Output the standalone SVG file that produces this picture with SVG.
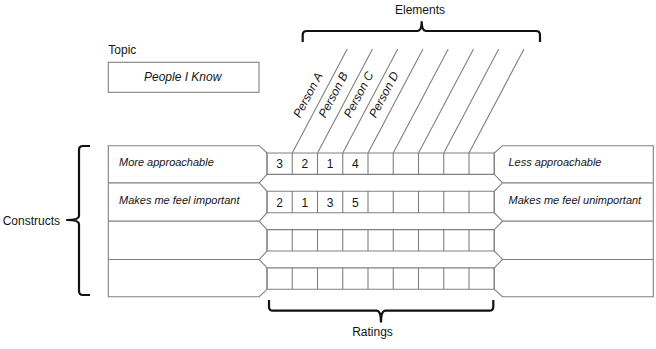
<svg xmlns="http://www.w3.org/2000/svg" width="656" height="349" viewBox="0 0 656 349">
<style>
  .ln{fill:none;stroke:#808080;stroke-width:1.1}
  .br{fill:none;stroke:#111;stroke-width:2.2;stroke-linejoin:round;stroke-linecap:butt}
  .t{font-family:"Liberation Sans",Arial,sans-serif;font-size:12px;fill:#151515}
  .i{font-style:italic;font-size:11px}
  .p{font-style:italic;font-size:12px}
  .n{font-size:12px;text-anchor:middle}
</style>
<rect width="656" height="349" fill="#fff"/>

<g id="topic">
  <text class="t" x="108.3" y="53.5">Topic</text>
  <rect class="ln" x="108.3" y="62.3" width="150.7" height="30"/>
  <text class="t p" x="182.7" y="80.8" text-anchor="middle">People I Know</text>
</g>

<g id="constructs-left">
  <path class="ln" d="M108.3,145.7 H259.3 L267,153 V174.4 L259.3,182.85 L267,191.3 V212.7 L259.3,221.15 L267,229.6 V251 L259.3,259.45 L267,267.9 V289.3 L259.3,296.7 H108.3 Z M108.3,182.85 H259.3 M108.3,221.15 H259.3 M108.3,259.45 H259.3"/>
  <text class="t i" x="119" y="166">More approachable</text>
  <text class="t i" x="119" y="204.3">Makes me feel important</text>
</g>

<g id="constructs-right">
  <path class="ln" d="M502.5,145.7 H653.3 V296.7 H502.5 L494.25,289.3 V267.9 L502.5,259.45 L494.25,251 V229.6 L502.5,221.15 L494.25,212.7 V191.3 L502.5,182.85 L494.25,174.4 V153 Z M502.5,182.85 H653.3 M502.5,221.15 H653.3 M502.5,259.45 H653.3"/>
  <text class="t i" x="508.5" y="166">Less approachable</text>
  <text class="t i" x="508.5" y="204.3">Makes me feel unimportant</text>
</g>

<g id="ratings-grid">
  <path class="ln" d="M267,153 H494.25 V174.4 H267 Z M267,191.3 H494.25 V212.7 H267 Z M267,229.6 H494.25 V251 H267 Z M267,267.9 H494.25 V289.3 H267 Z
  M292.25,153 V174.4 M317.5,153 V174.4 M342.75,153 V174.4 M368,153 V174.4 M393.25,153 V174.4 M418.5,153 V174.4 M443.75,153 V174.4 M469,153 V174.4
  M292.25,191.3 V212.7 M317.5,191.3 V212.7 M342.75,191.3 V212.7 M368,191.3 V212.7 M393.25,191.3 V212.7 M418.5,191.3 V212.7 M443.75,191.3 V212.7 M469,191.3 V212.7
  M292.25,229.6 V251 M317.5,229.6 V251 M342.75,229.6 V251 M368,229.6 V251 M393.25,229.6 V251 M418.5,229.6 V251 M443.75,229.6 V251 M469,229.6 V251
  M292.25,267.9 V289.3 M317.5,267.9 V289.3 M342.75,267.9 V289.3 M368,267.9 V289.3 M393.25,267.9 V289.3 M418.5,267.9 V289.3 M443.75,267.9 V289.3 M469,267.9 V289.3"/>
  <text class="t n" x="279.6" y="168.3">3</text>
  <text class="t n" x="304.9" y="168.3">2</text>
  <text class="t n" x="330.1" y="168.3">1</text>
  <text class="t n" x="355.4" y="168.3">4</text>
  <text class="t n" x="279.6" y="206.6">2</text>
  <text class="t n" x="304.9" y="206.6">1</text>
  <text class="t n" x="330.1" y="206.6">3</text>
  <text class="t n" x="355.4" y="206.6">5</text>
</g>

<g id="connectors">
  <path class="ln" d="M292.25,153 L347.25,49 M317.5,153 L372.5,49 M342.75,153 L397.75,49 M368,153 L423,49 M393.25,153 L448.25,49 M418.5,153 L473.5,49 M443.75,153 L498.75,49 M469,153 L524,49"/>
</g>

<g id="element-labels">
  <text class="t p" transform="translate(300,118.5) rotate(-62.1)">Person A</text>
  <text class="t p" transform="translate(325.25,118.5) rotate(-62.1)">Person B</text>
  <text class="t p" transform="translate(350.5,118.5) rotate(-62.1)">Person C</text>
  <text class="t p" transform="translate(375.75,118.5) rotate(-62.1)">Person D</text>
</g>

<g id="brackets">
  <path class="br" d="M302.7,42 V35 Q302.7,31 306.7,31 H417.5 Q421.7,30.5 421.7,22 Q421.7,30.5 425.9,31 H536 Q540,31 540,35 V42"/>
  <path class="br" d="M269,300 V306.7 Q269,310.7 273,310.7 H376.8 Q381,311.2 381,321.7 Q381,311.2 385.2,310.7 H489.3 Q493.3,310.7 493.3,306.7 V300"/>
  <path class="br" d="M90,146 H83 Q79,146 79,150 V216 Q79,220 67,220 Q79,220 79,224 V291 Q79,295 83,295 H90"/>
</g>

<g id="labels">
  <text class="t" x="420" y="13.8" text-anchor="middle">Elements</text>
  <text class="t" x="372.5" y="335.5" text-anchor="middle">Ratings</text>
  <text class="t" x="2.7" y="225">Constructs</text>
</g>
</svg>
